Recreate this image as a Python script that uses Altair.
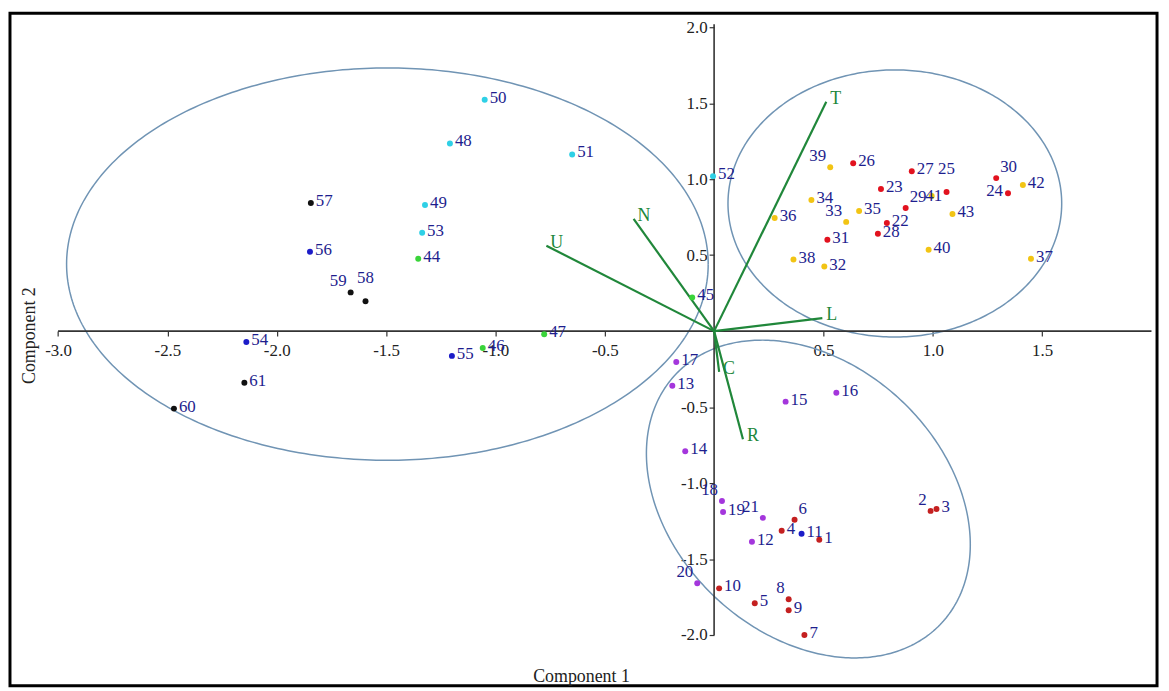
import altair as alt
import numpy as np
import pandas as pd

# ---------------- data ----------------
ids = list(range(1, 62))
comp1 = [0.481, 0.990, 1.017, 0.309, 0.186, 0.368, 0.413, 0.341, 0.341, 0.023,
         0.400, 0.173, -0.191, -0.132, 0.327, 0.559, -0.173, 0.036, 0.041, -0.077,
         0.223, 0.790, 0.763, 1.344, 1.063, 0.636, 0.904, 0.749, 0.876, 1.290,
         0.518, 0.504, 0.604, 0.445, 0.663, 0.277, 1.449, 0.363, 0.531, 0.981,
         0.995, 1.412, 1.090, -1.353, -0.100, -1.058, -0.777, -1.208, -1.322, -1.049,
         -0.649, -0.005, -1.335, -2.139, -1.199, -1.848, -1.844, -1.594, -1.662, -2.470,
         -2.148]
comp2 = [-1.373, -1.183, -1.170, -1.314, -1.791, -1.242, -2.000, -1.765, -1.837, -1.693,
         -1.333, -1.386, -0.359, -0.791, -0.464, -0.405, -0.203, -1.118, -1.190, -1.660,
         -1.229, 0.712, 0.935, 0.908, 0.915, 1.105, 1.052, 0.641, 0.810, 1.007,
         0.601, 0.425, 0.719, 0.863, 0.791, 0.745, 0.477, 0.471, 1.078, 0.536,
         0.889, 0.961, 0.771, 0.477, 0.222, -0.111, -0.020, 1.235, 0.830, 1.523,
         1.163, 1.020, 0.647, -0.072, -0.163, 0.523, 0.843, 0.196, 0.255, -0.510,
         -0.340]
groups = (["darkred"] * 10 + ["blue"] + ["purple"] * 10 + ["red"] * 10 +
          ["yellow"] * 12 + ["green"] * 4 + ["cyan"] * 6 + ["blue"] * 3 + ["black"] * 5)
# label placement relative to the dot
placement = ["E"] * 61
for i, p in {2: "NW", 8: "NW", 18: "NW", 20: "NW", 21: "NW", 33: "NW", 39: "NW", 59: "NW",
             25: "N", 58: "N", 6: "NE", 29: "NE", 30: "NE", 24: "W", 41: "C"}.items():
    placement[i - 1] = p

vec_names = ["T", "L", "N", "U", "C", "R"]
vec_c1 = [0.513, 0.495, -0.368, -0.767, 0.023, 0.132]
vec_c2 = [1.510, 0.085, 0.739, 0.562, -0.268, -0.712]

ell_cx = [-1.494, 0.8265, 0.431]
ell_cy = [0.441, 0.840, -1.105]
ell_a = [1.467, 0.763, 1.083]
ell_b = [1.291, 0.879, 0.685]
ell_angle = [0.0, 0.0, 109.6]

x_ticks = [-3.0, -2.5, -2.0, -1.5, -1.0, -0.5, 0.5, 1.0, 1.5]
y_ticks = [-2.0, -1.5, -1.0, -0.5, 0.5, 1.0, 1.5, 2.0]
x_axis_extent = [-3.0, 2.0]
y_axis_extent = [-2.0, 2.02]

group_names = ["darkred", "blue", "purple", "red", "yellow", "green", "cyan", "black"]
group_colors = ["#c42020", "#1c1cc8", "#a436dc", "#e2121e", "#f2c414", "#3ad43a", "#2fd0e6", "#111111"]

# ---------------- layout ----------------
W, H = 1155, 677
XO, YO = 709, 320          # pixel position of the origin inside the view
SX, SY = 220.2, 153.0      # pixels per unit
x_dom = [-XO / SX, (W - XO) / SX]
y_dom = [(YO - H) / SY, YO / SY]
xs = alt.Scale(domain=x_dom, nice=False, zero=False)
ys = alt.Scale(domain=y_dom, nice=False, zero=False)

SERIF = "Liberation Serif"
LABEL_EXPR = "replace(format(datum.value, '.1f'), '\u2212', '-')"
xaxis = alt.Axis(values=x_ticks, labelExpr=LABEL_EXPR, offset=YO - H, domain=False, grid=False,
                 tickSize=5, tickColor="#333333", tickWidth=1.2, labelFont=SERIF,
                 labelFontSize=17, labelColor="#222222", labelPadding=7, labelFlush=False,
                 labelOverlap=False, title="Component 1", titleFont=SERIF, titleFontSize=18,
                 titleFontWeight="normal", titleColor="#222222", titleX=575, titleY=353,
                 titleAlign="center", titleBaseline="alphabetic", titleAngle=0)
yaxis = alt.Axis(values=y_ticks, labelExpr=LABEL_EXPR, offset=-XO, domain=False, grid=False,
                 tickSize=5, tickColor="#333333", tickWidth=1.2, labelFont=SERIF,
                 labelFontSize=17, labelColor="#222222", labelPadding=2, labelFlush=False,
                 labelOverlap=False, title="Component 2", titleFont=SERIF, titleFontSize=18,
                 titleFontWeight="normal", titleColor="#222222", titleX=25 - XO, titleY=324,
                 titleAlign="center", titleBaseline="alphabetic", titleAngle=-90)


def X(f):
    return alt.X(f, type="quantitative", scale=xs, axis=xaxis)


def Y(f):
    return alt.Y(f, type="quantitative", scale=ys, axis=yaxis)


# ---------------- tables ----------------
pts = pd.DataFrame({"id": ids, "x": comp1, "y": comp2, "grp": groups, "pos": placement})
pts["lab"] = pts["id"].astype(str)

vec = pd.DataFrame({"name": vec_names, "x": vec_c1, "y": vec_c2, "x0": 0.0, "y0": 0.0})

rows = []
t = np.linspace(0, 2 * np.pi, 361)
for e in range(len(ell_cx)):
    phi = np.deg2rad(ell_angle[e])
    ex = ell_cx[e] + ell_a[e] * np.cos(t) * np.cos(phi) - ell_b[e] * np.sin(t) * np.sin(phi)
    ey = ell_cy[e] + ell_a[e] * np.cos(t) * np.sin(phi) + ell_b[e] * np.sin(t) * np.cos(phi)
    for k in range(len(t)):
        rows.append({"e": e, "k": k, "x": ex[k], "y": ey[k]})
ell = pd.DataFrame(rows)

axes_df = pd.DataFrame({
    "x": [x_axis_extent[0], 0.0], "x2": [x_axis_extent[1], 0.0],
    "y": [0.0, y_axis_extent[0]], "y2": [0.0, y_axis_extent[1]],
})

# ---------------- layers ----------------
ellipses = alt.Chart(ell).mark_line(stroke="#7094b4", strokeWidth=1.5).encode(
    x=X("x"), y=Y("y"), detail="e:N", order="k:Q")

axis_lines = alt.Chart(axes_df).mark_rule(color="#333333", strokeWidth=1.6).encode(
    x=X("x"), x2="x2:Q", y=Y("y"), y2="y2:Q")

vectors = alt.Chart(vec).mark_rule(color="#20873a", strokeWidth=2.2).encode(
    x=X("x0"), y=Y("y0"), x2="x:Q", y2="y:Q")

vec_labels = alt.Chart(vec).mark_text(align="left", baseline="middle", dx=4, dy=-3,
                                      font=SERIF, fontSize=18, color="#20873a").encode(
    x=X("x"), y=Y("y"), text="name:N")

dots = alt.Chart(pts).mark_circle(size=36, opacity=1).encode(
    x=X("x"), y=Y("y"),
    color=alt.Color("grp:N", scale=alt.Scale(domain=group_names, range=group_colors), legend=None))

place_style = {
    "E": dict(align="left", dx=5, dy=-2),
    "W": dict(align="right", dx=-5, dy=-2),
    "NW": dict(align="right", dx=-4, dy=-11),
    "NE": dict(align="left", dx=4, dy=-11),
    "N": dict(align="center", dx=0, dy=-23),
    "C": dict(align="center", dx=2, dy=0),
}
label_layers = []
for key, st in place_style.items():
    label_layers.append(
        alt.Chart(pts).transform_filter(alt.datum.pos == key).mark_text(
            baseline="middle", font=SERIF, fontSize=17, color="#1e1e8e", **st).encode(
            x=X("x"), y=Y("y"), text="lab:N"))

chart = alt.layer(ellipses, axis_lines, vectors, vec_labels, dots, *label_layers).properties(
    width=W, height=H,
    padding={"left": 2, "top": 3, "right": 4, "bottom": 2},
    autosize="none",
).configure_view(stroke="black", strokeWidth=3)

chart.save("out.html", embed_options={"renderer": "svg", "actions": False})
